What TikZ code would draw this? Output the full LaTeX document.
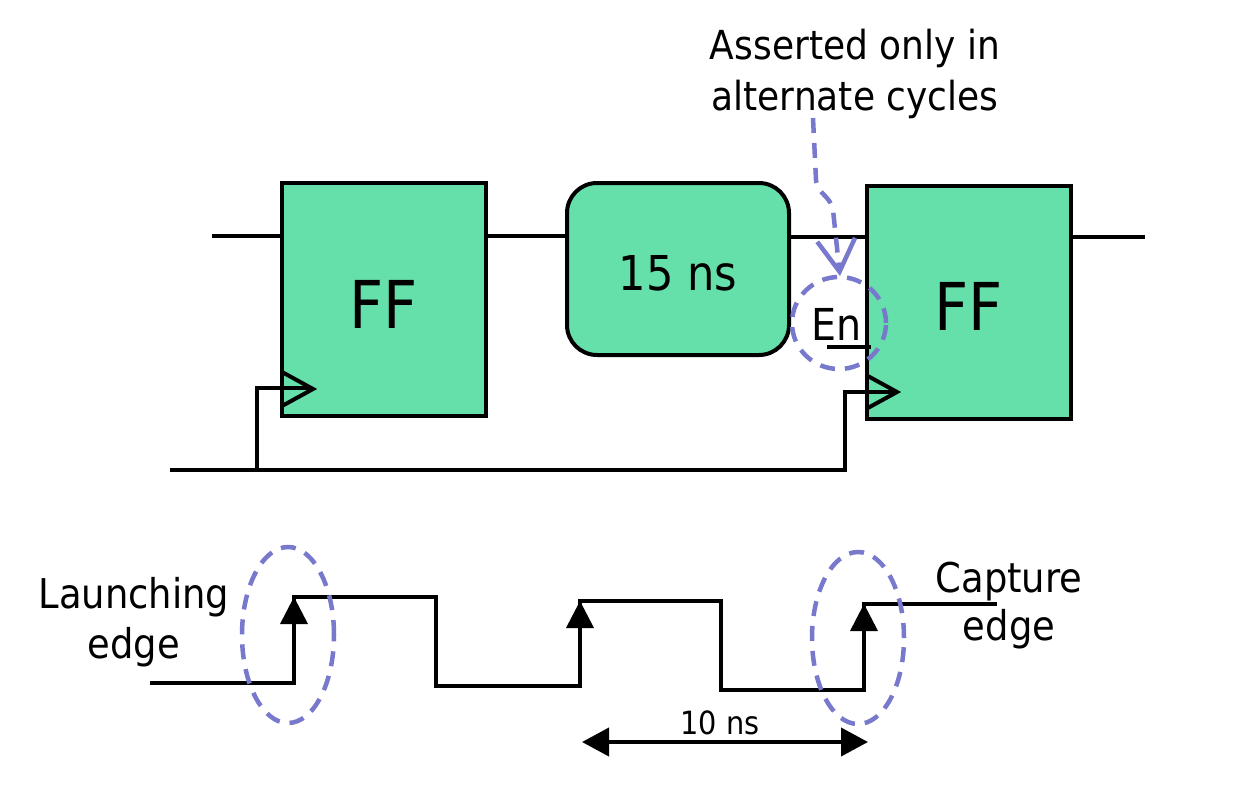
\documentclass[tikz,border=0pt]{standalone}
\usepackage{fontspec}
\setmainfont{DejaVu Sans}[FakeStretch=0.9]
\usetikzlibrary{arrows.meta}
\definecolor{ffgreen}{RGB}{102,224,170}
\definecolor{dashblue}{RGB}{120,120,204}
\begin{document}
\begin{tikzpicture}[x=1pt,y=-1pt,
  wire/.style={line width=4pt},
  ffbox/.style={draw, line width=4pt, fill=ffgreen, inner sep=0pt,
    minimum width=204pt, minimum height=233pt},
  dashE/.style={draw=dashblue, line width=4.5pt, dash pattern=on 15pt off 10pt},
  tri/.style={fill=black},
  lbl/.style={inner sep=0pt, anchor=base, align=center}]
\useasboundingbox (0,0) rectangle (1236,798);
% flip-flops and logic
\node[ffbox] (ff1) at (384,299.5) {};
\node[ffbox] (ff2) at (968.5,302) {};
\node[lbl, font=\fontsize{66}{66}\selectfont] (ff1t) at (384,328) {FF};
\node[lbl, font=\fontsize{66}{66}\selectfont] (ff2t) at (968.5,330) {FF};
\node[draw, line width=4pt, fill=ffgreen, rounded corners=30pt, minimum width=222pt,
  minimum height=172pt, inner sep=0pt] (logic) at (678,269) {};
\node[lbl, font=\fontsize{48}{48}\selectfont] (logict) at (678,290) {15 ns};
% data wires
\coordinate (din) at (212,236);
\coordinate (dout) at (1145,237);
\draw[wire] (din) -- (din -| ff1.west);
\draw[wire] (ff1.east |- din) -- (logic.west |- din);
\draw[wire] (logic.east |- 0,237) -- (ff2.west |- 0,237);
\draw[wire] (ff2.east |- dout) -- (dout);
% clock wires
\coordinate (clkin) at (170,470);
\coordinate (clkb1) at (257,470);
\coordinate (clkb2) at (845,470);
\draw[wire] (clkin) -- (clkb2) -- (845,392) -- (896,392);
\draw[wire] (clkb1) -- (257,388) -- (312,388);
\draw[wire, line join=miter] (282,372) -- (313,389) -- (282,406);
\draw[wire, line join=miter] (866,375) -- (897,392) -- (866,409);
% enable
\node[lbl, font=\fontsize{44}{44}\selectfont] (en) at (837,340) {En};
\coordinate (enl) at (827,347);
\coordinate (enr) at (871,347);
\draw[wire] (enl) -- (enr);
\draw[dashE] (839,323) ellipse [x radius=47pt, y radius=46pt];
\node[lbl, font=\fontsize{40}{51}\selectfont] (note) at (855,110) {Asserted only in\\alternate cycles};
\coordinate (notefoot) at (813,118);
\coordinate (entop) at (840,276);
\draw[dashE, -{Straight Barb[length=32pt,width=38pt]}] (notefoot) -- (816,180)
  .. controls (818,195) and (830,195) .. (833,210) -- (entop);
% waveform
\draw[wire] (150,683) -- (294,683) -- (294,597) -- (436,597) -- (436,686) -- (580,686)
  -- (580,601) -- (721,601) -- (721,690) -- (864,690) -- (864,604) -- (997,604);
\fill[tri] (280,624) -- (294,597) -- (308,624) -- cycle;
\fill[tri] (566,628) -- (580,601) -- (594,628) -- cycle;
\fill[tri] (850,631) -- (864,604) -- (878,631) -- cycle;
\draw[dashE] (288,635) ellipse [x radius=46pt, y radius=88pt];
\draw[dashE] (858,638) ellipse [x radius=46pt, y radius=86pt];
\node[lbl, font=\fontsize{41}{50}\selectfont] (launch) at (134,658) {Launching\\edge};
\node[lbl, font=\fontsize{41}{48}\selectfont] (capt) at (1009,640) {Capture\\edge};
\coordinate (pl) at (582,742);
\coordinate (pr) at (868,742);
\draw[wire, {Triangle[length=27pt,width=28pt]}-{Triangle[length=27pt,width=28pt]}] (pl) -- (pr);
\node[lbl, font=\fontsize{32}{32}\selectfont] (tens) at (720,734) {10 ns};
\end{tikzpicture}
\end{document}
